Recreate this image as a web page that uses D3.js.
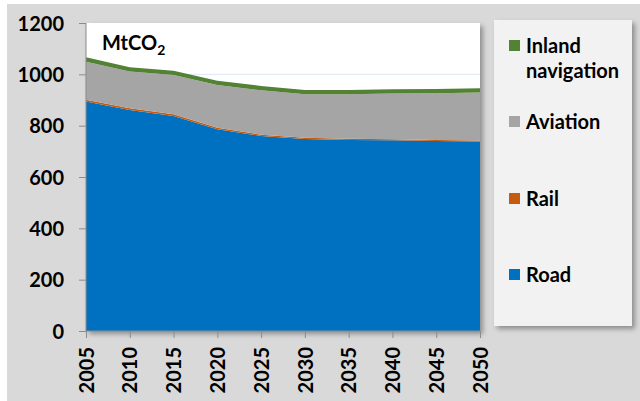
<!DOCTYPE html>
<html><head><meta charset="utf-8">
<script src="https://cdn.jsdelivr.net/npm/d3@7"></script>
<style>body{margin:0;background:#fff}svg{display:block}text{font-family:Lato,'Open Sans',sans-serif;font-weight:bold;fill:#000}</style>
</head><body>
<script>
const years = [2005,2010,2015,2020,2025,2030,2035,2040,2045,2050];
const road = [894,861,838,786,760,748,744,743,740,738];
const rail = [7,7,6,6,5,5,5,4,4,4];
const aviation = [148,143,153,166,173,169,173,178,182,187];
const inland = [18,17,17,17,17,17,17,17,17,17];
const seriesNames = ["Road","Rail","Aviation","Inland navigation"];
const seriesColors = ["#0070c0","#c55a11","#a5a5a5","#548235"];
const yTicks = [0,200,400,600,800,1000,1200];
const unitLabel = "MtCO";

const W=640,H=401;
const svg=d3.select("body").append("svg").attr("width",W).attr("height",H);
const defs=svg.append("defs");
const f=defs.append("filter").attr("id","sh").attr("x","-10%").attr("y","-10%").attr("width","130%").attr("height","130%");
f.append("feDropShadow").attr("dx",3).attr("dy",3).attr("stdDeviation",2.5).attr("flood-color","#000").attr("flood-opacity",0.35);

svg.append("rect").attr("x",7).attr("y",4).attr("width",W-7).attr("height",H-4).attr("fill","#d9d9d9");

const x=d3.scaleLinear().domain([2005,2050]).range([86,480]);
const y=d3.scaleLinear().domain([0,1200]).range([331,23]);

svg.append("rect").attr("x",86).attr("y",23).attr("width",394).attr("height",308).attr("fill","#fff").attr("filter","url(#sh)");

svg.append("g").selectAll("line").data(yTicks.filter(d=>d>0&&d<1200)).join("line")
 .attr("x1",86).attr("x2",480).attr("y1",d=>y(d)).attr("y2",d=>y(d)).attr("stroke","#dce6f2").attr("stroke-width",1);

const table=years.map((yr,i)=>({year:yr,Road:road[i],Rail:rail[i],Aviation:aviation[i],"Inland navigation":inland[i]}));
const stack=d3.stack().keys(seriesNames)(table);
const area=d3.area().x(d=>x(d.data.year)).y0(d=>y(d[0])).y1(d=>y(d[1]));
svg.append("g").selectAll("path").data(stack).join("path").attr("d",area).attr("fill",(d,i)=>seriesColors[i]);

// axes
const ya=svg.append("g").attr("transform","translate(86,0)").call(d3.axisLeft(y).tickValues(yTicks).tickSize(7).tickFormat(d3.format("d")));
ya.select(".domain").attr("stroke","#8c8c8c").attr("d","M0,23V331");
ya.selectAll(".tick line").attr("stroke","#8c8c8c");
ya.selectAll("text").attr("x",-22).attr("dy","0.36em").style("font-size","20px").style("font-family","Lato,sans-serif").style("font-weight","bold").attr("fill","#000");

const xa=svg.append("g").attr("transform","translate(0,331)").call(d3.axisBottom(x).tickValues(years).tickSize(7).tickFormat(d3.format("d")));
xa.select(".domain").attr("stroke","#8c8c8c").attr("d","M86,0H480");
xa.selectAll(".tick line").attr("stroke","#8c8c8c");
xa.selectAll("text").attr("transform","rotate(-90)").attr("x",-16).attr("y",0).attr("dy","0.36em")
  .attr("text-anchor","end").style("font-size","20px").style("font-family","Lato,sans-serif").style("font-weight","bold").attr("fill","#000");

// unit label
const ut=svg.append("text").attr("x",102).attr("y",50).style("font-size","20px");
ut.append("tspan").text(unitLabel);
ut.append("tspan").attr("dy",5).style("font-size","14px").text("2");

// legend
svg.append("rect").attr("x",494).attr("y",20).attr("width",138).attr("height",306).attr("fill","#f2f2f2").attr("filter","url(#sh)");
const legY={"Inland navigation":46,"Aviation":122,"Rail":199,"Road":275};
const lg=svg.append("g");
seriesNames.slice().reverse().forEach(n=>{
  const i=seriesNames.indexOf(n);
  const cy=legY[n];
  lg.append("rect").attr("x",509).attr("y",cy-6).attr("width",11).attr("height",11).attr("fill",seriesColors[i]);
  const t=lg.append("text").attr("x",526).attr("y",cy).attr("dy","0.36em").style("font-size","20px");
  if(n==="Inland navigation"){
    t.append("tspan").attr("x",526).text("Inland");
    t.append("tspan").attr("x",526).attr("dy","1.25em").text("navigation");
  } else t.text(n);
});
</script>
</body></html>
